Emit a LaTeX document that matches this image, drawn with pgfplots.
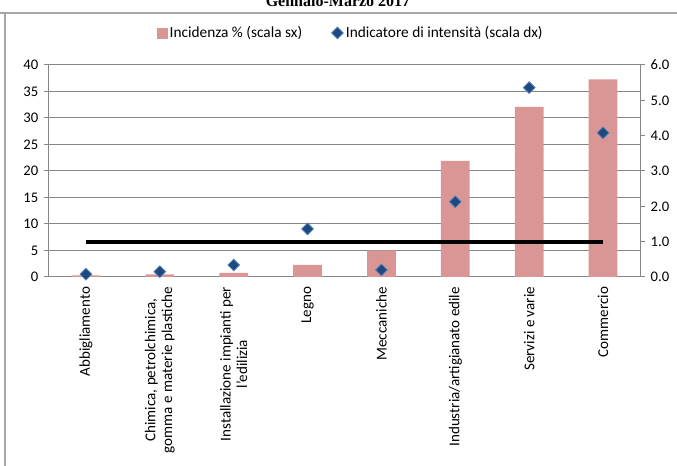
\documentclass[border=0pt]{standalone}
\usepackage{pgfplots}
\pgfplotsset{compat=1.18}
\usepackage{fontspec}
\setmainfont{Carlito}
\newfontfamily\titlefont{Liberation Serif}
\definecolor{barpink}{RGB}{217,150,148}
\definecolor{dnavy}{RGB}{31,73,125}
\definecolor{dedge}{RGB}{79,129,189}
\definecolor{gridgray}{RGB}{134,134,134}

\begin{document}
\begin{tikzpicture}
  % page = 677x466 px, 1px = 0.75pt
  \useasboundingbox (0pt,0pt) rectangle (507.75pt,349.5pt);
  % chart frame (cropped)
  \draw[draw=gray!70, line width=1.5pt] (0pt,339.75pt) -- (507.75pt,339.75pt);
  \draw[draw=gray!70, line width=1.8pt] (3.75pt,339.75pt) -- (3.75pt,0pt);
  \node[font=\titlefont\bfseries\fontsize{12}{12}\selectfont, anchor=base] at (253.5pt,344.25pt) {Gennaio-Marzo 2017};

  \pgfplotsset{
    every axis/.append style={
      scale only axis,
      width=443.25pt, height=159pt,
      at={(36.75pt,141.75pt)}, anchor=south west,
      xmin=-0.5, xmax=7.5,
      tick label style={font=\fontsize{11}{13}\selectfont},
      /pgf/number format/assume math mode=true,
      axis line style={gridgray, line width=0.75pt},
      major tick length=3.5pt,
      tick style={gridgray, line width=0.75pt},
    },
  }

  % left axis: incidence bars
  \begin{axis}[
    ymin=0, ymax=40,
    ytick={0,5,...,40},
    axis x line*=bottom,
    axis y line*=left,
    ymajorgrids,
    grid style={gridgray, line width=0.75pt},
    xtick={0,...,7},
    xtick style={draw=none},
    xticklabels={
      Abbigliamento,
      {Chimica, petrolchimica,\\gomma e materie plastiche},
      {Installazione impianti per\\l'edilizia},
      Legno,
      Meccaniche,
      Industria/artigianato edile,
      Servizi e varie,
      Commercio},
    xticklabel style={rotate=90, anchor=east, align=center, font=\fontsize{11.3}{12.5}\selectfont},
    xticklabel shift=4pt,
    yticklabel style={xshift=-1pt},
    ytick align=outside,
  ]
    \addplot[ybar, bar width=0.39, fill=barpink, draw=none]
      coordinates {(0,0.3) (1,0.5) (2,0.8) (3,2.3) (4,5.0) (5,21.9) (6,32.1) (7,37.3)};
  \end{axis}

  % right axis: intensity indicator
  \begin{axis}[
    ymin=0, ymax=6,
    ytick={0,1,...,6},
    axis x line=none,
    axis y line*=right,
    ytick align=outside,
    yticklabel style={/pgf/number format/fixed, /pgf/number format/fixed zerofill,
      /pgf/number format/precision=1, xshift=1pt},
    legend style={at={(0.511,1.151)}, anchor=center, draw=none, fill=none,
      font=\fontsize{11.5}{13}\selectfont, legend columns=2,
      /tikz/every even column/.append style={column sep=20pt}},
    legend cell align=left,
  ]
    \addlegendimage{legend image code/.code={\fill[barpink] (0.08cm,-0.13cm) rectangle (0.34cm,0.13cm);}}
    \addlegendentry{Incidenza \% (scala sx)}
    \addplot[draw=black, line width=3pt, forget plot] coordinates {(0,1) (7,1)};
    \addplot[only marks, mark=square*, mark size=3.1pt,
      mark options={rotate=45, fill=dnavy, draw=dedge, line width=0.6pt}]
      coordinates {(0,0.08) (1,0.15) (2,0.34) (3,1.36) (4,0.2) (5,2.13) (6,5.36) (7,4.08)};
    \addlegendentry{Indicatore di intensità (scala dx)}
  \end{axis}
\end{tikzpicture}
\end{document}
